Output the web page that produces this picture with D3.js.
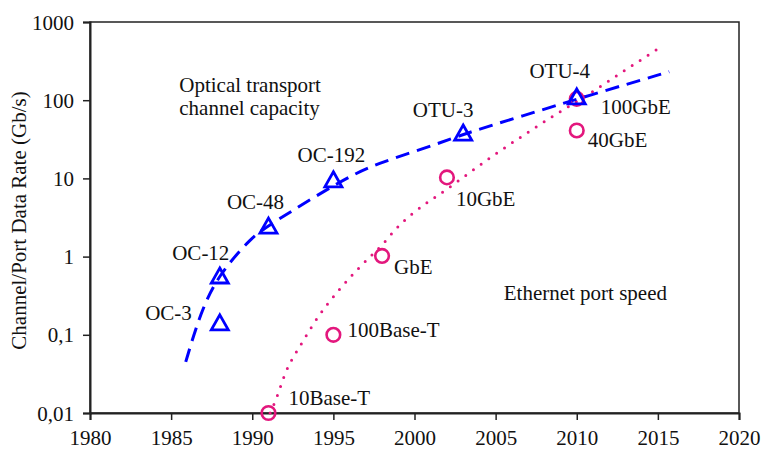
<!DOCTYPE html>
<html lang="en">
<head>
<meta charset="UTF-8">
<title>Channel capacity vs Ethernet port speed</title>
<script src="https://d3js.org/d3.v7.min.js"></script>
<style>
    body { margin: 0; background: #fff; }
    svg { display: block; }
    text { font-family: "Liberation Serif", "Times New Roman", serif; font-size: 21px; fill: #111; }
</style>
</head>
<body>
<svg width="763" height="449"></svg>
<script>
    // optical transport channels (triangles)
    const otnNames = ["OC-3", "OC-12", "OC-48", "OC-192", "OTU-3", "OTU-4"];
    const otnYears = [1988, 1988, 1991, 1995, 2003, 2010];
    const otnRates = [0.142, 0.565, 2.45, 9.6, 38, 110];

    // ethernet ports (circles)
    const ethNames = ["10Base-T", "100Base-T", "GbE", "10GbE", "40GbE", "100GbE"];
    const ethYears = [1991, 1995, 1998, 2002, 2010, 2010];
    const ethRates = [0.01, 0.1, 1.02, 10.3, 41, 104];

    // trend lines
    const otnFitYears = [1985.9, 1986.8, 1987.9, 1990.0, 1991.0, 1995.8, 1997.9, 2001.6, 2003.2, 2006.5, 2010.8, 2015.7];
    const otnFitRates = [0.045, 0.19, 0.58, 1.8, 2.5, 10.4, 16, 28.4, 38, 61.5, 116, 231];
    const ethFitYears = [1991.1, 1991.4, 1992.1, 1993.05, 1994.1, 1995.3, 1996.65, 1998.05, 1998.8, 2002.5, 2004.75, 2006.9, 2008.55, 2010.8, 2012.9, 2015.2];
    const ethFitRates = [0.01, 0.0139, 0.0345, 0.078, 0.174, 0.363, 0.743, 1.45, 2.19, 8.65, 18.9, 37.7, 62.8, 122, 236, 483];

    const xTicks = [1980, 1985, 1990, 1995, 2000, 2005, 2010, 2015, 2020];
    const yTicks = [0.01, 0.1, 1, 10, 100, 1000];
    const yTickLabels = ["0,01", "0,1", "1", "10", "100", "1000"];

    const yTitle = "Channel/Port Data Rate (Gb/s)";

    // label placement relative to each marker (px)
    const otnLabelPos = [
        { anchor: "end", dx: -28, dy: -3 },
        { anchor: "middle", dx: -19, dy: -16 },
        { anchor: "middle", dx: -13, dy: -17 },
        { anchor: "middle", dx: -2, dy: -18 },
        { anchor: "middle", dx: -20, dy: -16 },
        { anchor: "middle", dx: -17, dy: -19 }
    ];
    const ethLabelPos = [
        { anchor: "start", dx: 20, dy: -8 },
        { anchor: "start", dx: 14, dy: 2 },
        { anchor: "start", dx: 12, dy: 18 },
        { anchor: "start", dx: 9, dy: 29 },
        { anchor: "start", dx: 11, dy: 17 },
        { anchor: "start", dx: 24, dy: 15 }
    ];

    const margin = { top: 22, right: 24, bottom: 36, left: 90 };
    const width = 763 - margin.left - margin.right;
    const height = 449 - margin.top - margin.bottom;

    const svg = d3.select("svg");
    const g = svg.append("g").attr("transform", `translate(${margin.left},${margin.top})`);

    const x = d3.scaleLinear().domain([1980, 2020]).range([0, width]);
    const y = d3.scaleLog().domain([0.01, 1000]).range([height, 0]);

    const blue = "#0000ff";
    const pink = "#e3177d";

    // frame
    g.append("rect")
        .attr("width", width)
        .attr("height", height)
        .attr("fill", "none")
        .attr("stroke", "#222")
        .attr("stroke-width", 1.5);

    // axes
    const xAxis = g.append("g")
        .attr("transform", `translate(0,${height})`)
        .call(d3.axisBottom(x).tickValues(xTicks).tickFormat(d3.format("d")).tickSize(7).tickPadding(6));
    const yAxis = g.append("g")
        .call(d3.axisLeft(y).tickValues(yTicks).tickFormat((d, i) => yTickLabels[i]).tickSize(7).tickPadding(9));

    [xAxis, yAxis].forEach(a => {
        a.select(".domain").attr("stroke", "#222").attr("stroke-width", 2);
        a.selectAll(".tick line").attr("stroke", "#222").attr("stroke-width", 1.5);
        a.selectAll(".tick text")
            .attr("fill", "#111")
            .style("font-family", "'Liberation Serif', 'Times New Roman', serif")
            .style("font-size", "21px");
    });
    xAxis.selectAll(".tick text").attr("dy", "0.9em");
    yAxis.selectAll(".tick text").attr("dy", "0.34em");

    svg.append("text")
        .attr("transform", `translate(26,${margin.top + height / 2 + 3}) rotate(-90)`)
        .attr("text-anchor", "middle")
        .text(yTitle);

    // trend lines
    const line = d3.line()
        .x(d => x(d[0]))
        .y(d => y(d[1]))
        .curve(d3.curveMonotoneX);

    g.append("path")
        .datum(d3.zip(ethFitYears, ethFitRates))
        .attr("d", line)
        .attr("fill", "none")
        .attr("stroke", pink)
        .attr("stroke-width", 3)
        .attr("stroke-linecap", "round")
        .attr("stroke-dasharray", "0 9.5");

    g.append("path")
        .datum(d3.zip(otnFitYears, otnFitRates))
        .attr("d", line.curve(d3.curveBasis))
        .attr("fill", "none")
        .attr("stroke", blue)
        .attr("stroke-width", 3)
        .attr("stroke-dasharray", "14 8");

    // ethernet markers
    g.selectAll(".eth")
        .data(ethNames.map((n, i) => ({ name: n, year: ethYears[i], rate: ethRates[i] })))
        .join("circle")
        .attr("class", "eth")
        .attr("cx", d => x(d.year))
        .attr("cy", d => y(d.rate))
        .attr("r", 6.8)
        .attr("fill", "none")
        .attr("stroke", pink)
        .attr("stroke-width", 2.6);

    // otn markers
    const tri = "M0,-8 L8.5,7 L-8.5,7 Z";
    g.selectAll(".otn")
        .data(otnNames.map((n, i) => ({ name: n, year: otnYears[i], rate: otnRates[i] })))
        .join("path")
        .attr("class", "otn")
        .attr("d", tri)
        .attr("transform", d => `translate(${x(d.year)},${y(d.rate)})`)
        .attr("fill", "none")
        .attr("stroke", blue)
        .attr("stroke-width", 2.8);

    // point labels
    const labels = [
        ...otnNames.map((n, i) => ({ name: n, year: otnYears[i], rate: otnRates[i], pos: otnLabelPos[i] })),
        ...ethNames.map((n, i) => ({ name: n, year: ethYears[i], rate: ethRates[i], pos: ethLabelPos[i] }))
    ];
    g.selectAll(".lbl")
        .data(labels)
        .join("text")
        .attr("class", "lbl")
        .attr("x", d => x(d.year) + d.pos.dx)
        .attr("y", d => y(d.rate) + d.pos.dy)
        .attr("text-anchor", d => d.pos.anchor)
        .text(d => d.name);

    // region captions
    const cap1 = g.append("text")
        .attr("x", x(1985.5))
        .attr("y", y(127));
    cap1.append("tspan").text("Optical transport");
    cap1.append("tspan").attr("x", x(1985.5)).attr("dy", 23).text("channel capacity");

    g.append("text")
        .attr("x", x(2005.5))
        .attr("y", y(0.28))
        .text("Ethernet port speed");
</script>
</body>
</html>
